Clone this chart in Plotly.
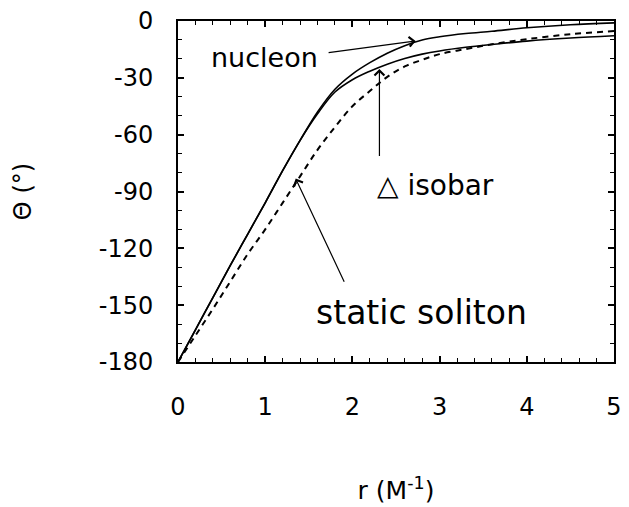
import plotly.graph_objects as go

# radius r (M^-1)
r = [0.0, 0.2, 0.4, 0.6, 0.8, 1.0, 1.2, 1.4, 1.6, 1.8, 2.0, 2.2, 2.4, 2.6, 2.8,
     3.0, 3.3, 3.6, 4.0, 4.5, 5.0]
# chiral angle Theta (degrees)
theta_nucleon = [-180, -163, -146, -129, -112.5, -96, -79, -63, -48, -36, -28,
                 -22, -17, -13, -10, -8.3, -6.6, -5.4, -3.6, -2, -1]
theta_delta = [-180, -163, -146, -129, -112.5, -96, -79, -63, -49, -37.5, -31,
               -26.5, -22.8, -19.8, -17.5, -15.8, -13.9, -12.4, -10.6, -9, -7.8]
theta_static = [-180, -166, -152, -137.5, -123, -110, -96, -82, -68, -56, -45,
                -37, -29.5, -24, -20.5, -17.5, -14.8, -12.3, -9.6, -7, -5.3]

x_ticks = [0, 1, 2, 3, 4, 5]
y_ticks = [0, -30, -60, -90, -120, -150, -180]

FONT = "DejaVu Sans"

fig = go.Figure()
fig.add_trace(go.Scatter(x=r, y=theta_nucleon, mode="lines", line_shape="spline",
                         line=dict(color="black", width=1.6), name="nucleon"))
fig.add_trace(go.Scatter(x=r, y=theta_delta, mode="lines", line_shape="spline",
                         line=dict(color="black", width=1.6), name="Δ isobar"))
fig.add_trace(go.Scatter(x=r, y=theta_static, mode="lines", line_shape="spline",
                         line=dict(color="black", width=2, dash="6px,5px"),
                         name="static soliton"))

axis_common = dict(showgrid=False, zeroline=False, showline=True, linecolor="black",
                   linewidth=2, mirror="allticks", ticks="inside", tickcolor="black",
                   tickwidth=1.5, ticklen=6,
                   tickfont=dict(family=FONT, size=24, color="black"))

fig.update_xaxes(range=[0, 5], tickvals=x_ticks, ticktext=[str(v) for v in x_ticks],
                 minor=dict(dtick=0.2, ticks="inside", ticklen=4, tickcolor="black",
                            tickwidth=1),
                 ticklabelstandoff=22,
                 title=dict(text="r (M<sup>-1</sup>)", font=dict(family=FONT, size=25,
                                                                  color="black"),
                            standoff=62),
                 **axis_common)
fig.update_yaxes(range=[-180, 0], tickvals=y_ticks, ticktext=[str(v) for v in y_ticks],
                 minor=dict(dtick=10, ticks="inside", ticklen=4, tickcolor="black",
                            tickwidth=1),
                 ticklabelstandoff=18,
                 title=dict(text="Θ (°)", font=dict(family=FONT, size=24, color="black"),
                            standoff=60),
                 **axis_common)

ann_font = dict(family=FONT, color="black")
annotations = [
    dict(x=0.99, y=-19.5, text="nucleon", showarrow=False, font=dict(size=27, **ann_font)),
    dict(x=2.95, y=-86.8, text="△ isobar", showarrow=False, font=dict(size=28, **ann_font)),
    dict(x=2.79, y=-153.7, text="static soliton", showarrow=False,
         font=dict(size=33, **ann_font)),
    # arrows
    dict(x=2.725, y=-10.5, ax=1.71, ay=-16.8, axref="x", ayref="y", text="",
         showarrow=True, arrowhead=4, arrowsize=1.6, arrowwidth=1.2, arrowcolor="black",
         standoff=0, startstandoff=0),
    dict(x=2.31, y=-25.3, ax=2.31, ay=-72.1, axref="x", ayref="y", text="",
         showarrow=True, arrowhead=4, arrowsize=1.6, arrowwidth=1.2, arrowcolor="black",
         standoff=0, startstandoff=0),
    dict(x=1.35, y=-83.2, ax=1.914, ay=-138.4, axref="x", ayref="y", text="",
         showarrow=True, arrowhead=4, arrowsize=1.6, arrowwidth=1.2, arrowcolor="black",
         standoff=0, startstandoff=0),
]

fig.update_layout(width=629, height=507, margin=dict(l=178, r=7, t=20, b=145),
                  paper_bgcolor="white", plot_bgcolor="white", showlegend=False,
                  annotations=annotations,
                  font=dict(family=FONT, color="black"))

fig.write_html("out.html")
